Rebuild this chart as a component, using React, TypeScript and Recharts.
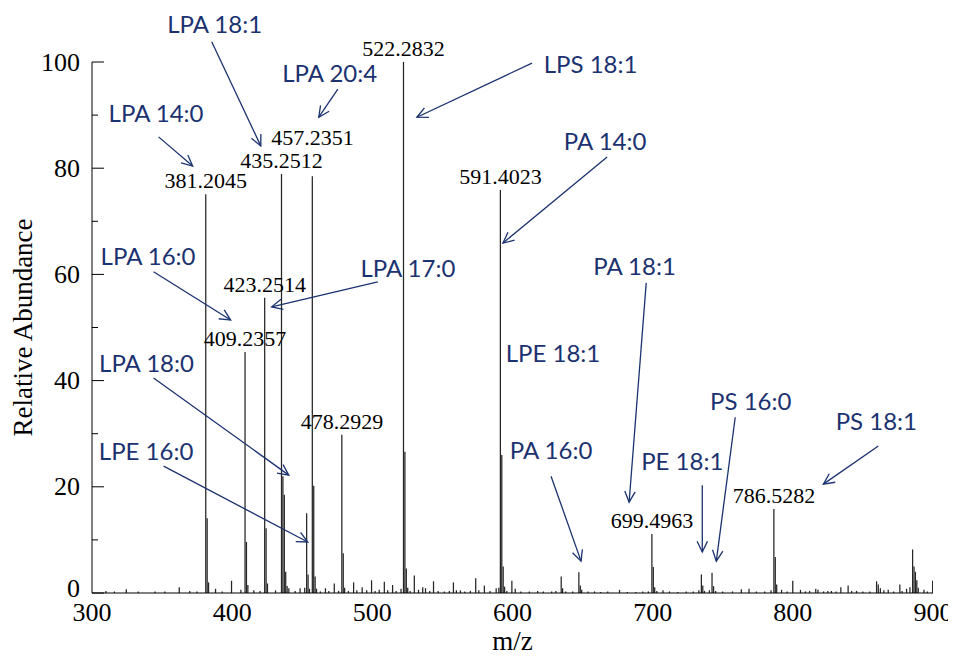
import React from 'react';
import { ComposedChart, Bar, XAxis, YAxis, ReferenceLine, ReferenceDot } from 'recharts';

// ---- spectrum peaks (m/z, relative abundance) ----
const peakMz = [
  310, 316, 324.5, 333, 345, 352, 362.3, 369.8, 375,
  381.2045, 382.21, 383.21, 388.2, 393, 399.6, 406.3,
  409.2357, 410.24, 411.24, 415.5, 420,
  423.2514, 424.25, 425.25, 431,
  435.2512, 436.25, 437.25, 438.25, 439.26, 440.5, 445, 448.5, 451.8,
  453.2, 454.2, 455.2,
  457.2351, 458.24, 459.24, 460.24, 463, 466.6, 469, 472.9, 476,
  478.2929, 479.3, 480.3, 483, 486.7, 489, 492.8, 496, 499.5, 502, 505, 508.6, 511, 514.5, 517, 520.5,
  522.2832, 523.29, 524.29, 525.29, 527, 530, 533, 536, 538, 541, 543.7, 547, 551.4, 555, 557.9, 560, 562.9, 566, 570, 573.8, 576, 580, 584, 588.4, 590.3,
  591.4023, 592.4, 593.41, 594.41, 596, 599.6, 602, 606, 612, 618, 622, 628, 631,
  634.8, 635.8, 638, 643, 647.4, 648.4, 649.4, 654, 658.6, 663, 668, 676.4, 682, 688, 693, 697,
  699.4963, 700.5, 701.5, 703, 707.4, 712, 718, 724, 729, 733,
  734.8, 735.8, 737, 740.5, 742.4, 743.5, 745, 750, 757, 763.3, 768.8, 774, 780, 784.5,
  786.5282, 787.53, 788.53, 792, 796, 800, 805.5, 809, 812, 816.4, 818, 822, 825, 827.5, 831, 834.3, 839.5, 842, 845.5, 850, 855,
  859.8, 861, 862.5, 865, 868.1, 872, 876.4, 878, 881.2, 883.6, 885.5, 886.5, 887.5, 888.5, 889.5, 893.6, 896, 899.8,
];
const peakAbundance = [
  0.4, 0.3, 0.7, 0.3, 0.3, 0.3, 1.1, 0.4, 0.3,
  75.1, 14.1, 2.0, 0.8, 0.3, 2.3, 0.6,
  45.4, 9.6, 1.5, 0.5, 0.4,
  55.6, 12.2, 1.8, 0.5,
  78.9, 22.0, 18.5, 4.0, 1.3, 0.9, 0.4, 0.9, 1.0,
  15.0, 3.5, 0.8,
  78.5, 20.2, 3.1, 0.8, 0.3, 0.9, 0.4, 1.8, 0.4,
  29.8, 7.5, 1.0, 0.4, 2.0, 0.5, 1.1, 0.5, 2.4, 0.4, 0.6, 2.1, 0.5, 1.5, 0.4, 0.8,
  100, 26.6, 4.6, 1.0, 0.4, 3.3, 0.6, 1.1, 0.9, 0.4, 2.2, 0.4, 0.3, 0.4, 2.0, 0.5, 0.5, 0.3, 0.4, 2.8, 0.5, 1.4, 0.4, 0.9, 1.0,
  75.9, 26.0, 5.0, 1.2, 0.4, 2.3, 0.8, 0.3, 0.3, 0.4, 0.3, 0.3, 0.4,
  3.1, 0.9, 0.3, 0.3, 3.9, 1.4, 0.6, 0.3, 0.3, 0.2, 0.3, 0.6, 0.2, 0.2, 0.3, 0.3,
  11.1, 4.9, 1.1, 0.4, 0.5, 0.3, 0.2, 0.3, 0.3, 0.5,
  3.5, 1.4, 0.4, 0.5, 3.8, 1.3, 0.4, 0.3, 0.3, 0.7, 0.8, 0.3, 0.3, 0.5,
  15.8, 6.8, 1.6, 0.6, 0.3, 2.3, 0.6, 0.3, 0.4, 0.8, 0.6, 0.3, 0.4, 0.4, 0.3, 1.1, 1.4, 0.4, 0.4, 0.3, 0.3,
  2.2, 1.6, 0.9, 0.5, 0.6, 0.3, 1.6, 0.4, 0.8, 1.1, 8.2, 5.0, 4.0, 2.4, 1.0, 0.6, 0.3, 2.3,
];

// ---- labelled peaks ----
const labelledMz = [381.2045, 409.2357, 423.2514, 435.2512, 457.2351, 478.2929, 522.2832, 591.4023, 699.4963, 786.5282];
const labelledAbundance = [75.1, 45.4, 55.6, 78.9, 78.5, 29.8, 100, 75.9, 11.1, 15.8];
const labelledText = ['381.2045', '409.2357', '423.2514', '435.2512', '457.2351', '478.2929', '522.2832', '591.4023', '699.4963', '786.5282'];

// ---- lipid annotations (text anchor and arrow in data units) ----
const lipidNames = ['LPA 14:0', 'LPA 18:1', 'LPA 20:4', 'LPS 18:1', 'LPA 16:0', 'LPA 17:0', 'LPA 18:0', 'LPE 16:0', 'PA 14:0', 'LPE 18:1', 'PA 18:1', 'PS 16:0', 'PA 16:0', 'PE 18:1', 'PS 18:1'];
const lipidTextMz = [345.7, 387.5, 469.6, 655.7, 340.0, 525.4, 338.9, 338.6, 666.1, 628.9, 687.1, 770.0, 627.5, 721.1, 859.6];
const lipidTextAb = [88.7, 105.5, 96.2, 97.9, 61.8, 59.5, 41.6, 25.0, 83.4, 43.5, 59.9, 34.5, 25.2, 23.2, 30.7];
const arrowFromMz = [347.5, 385.4, 475.4, 613.9, 343.9, 503.9, 343.9, 351.1, 667.5, null, 695.4, 758.9, 627.5, 735.4, 861.0];
const arrowFromAb = [85.9, 103.8, 94.9, 99.8, 60.5, 58.6, 40.5, 23.9, 82.1, null, 58.4, 33.1, 22.0, 20.3, 27.7];
const arrowToMz = [371.8, 420.4, 461.8, 531.8, 398.9, 428.2, 440.4, 453.9, 593.2, null, 683.2, 745.4, 648.9, 735.4, 821.8];
const arrowToAb = [80.4, 84.2, 89.6, 89.6, 51.4, 53.9, 22.2, 9.6, 65.9, null, 17.1, 6.0, 6.0, 7.7, 20.5];

// ---- axes ----
const xTicks = [300, 400, 500, 600, 700, 800, 900];
const yTicks = [0, 10, 20, 30, 40, 50, 60, 70, 80, 90, 100];
const yLabelled = [0, 20, 40, 60, 80, 100];

const data = peakMz.map((mz, i) => ({ mz, ab: peakAbundance[i] }));

const BLUE = '#1b3270';
const SERIF = '"Liberation Serif", "Times New Roman", serif';
const SANS = 'Lato, "Open Sans", sans-serif';

const YTick = (p: any) => {
  const { x, y, payload } = p;
  const v = payload.value;
  const axisX = x + 12;
  const major = yLabelled.includes(v);
  return (
    <g>
      <line x1={axisX} x2={axisX + (major ? 12 : 6)} y1={y} y2={y} stroke="#000" strokeWidth={1} />
      {major && (
        <text x={x} y={v === 0 ? y - 5 : y} textAnchor="end" dominantBaseline="central" fontFamily={SERIF} fontSize={26} fill="#000">
          {v}
        </text>
      )}
    </g>
  );
};

const XTick = (p: any) => {
  const { x, y, payload } = p;
  return (
    <text x={x} y={y} dy="0.71em" textAnchor="middle" fontFamily={SERIF} fontSize={26} fill="#000">
      {payload.value}
    </text>
  );
};

const Arrow = (p: any) => {
  const { x1, y1, x2, y2 } = p;
  const ang = Math.atan2(y2 - y1, x2 - x1);
  const L = 12;
  const a = Math.PI / 7;
  const ax = x2 - L * Math.cos(ang - a);
  const ay = y2 - L * Math.sin(ang - a);
  const bx = x2 - L * Math.cos(ang + a);
  const by = y2 - L * Math.sin(ang + a);
  return (
    <g>
      <line x1={x1} y1={y1} x2={x2} y2={y2} stroke={BLUE} strokeWidth={1.3} />
      <polyline points={`${ax},${ay} ${x2},${y2} ${bx},${by}`} fill="none" stroke={BLUE} strokeWidth={1.3} />
    </g>
  );
};

export default function App() {
  return (
    <ComposedChart
      width={946}
      height={650}
      data={data}
      margin={{ top: 54, right: 21, bottom: 6, left: 14 }}
    >
      <XAxis
        dataKey="mz"
        type="number"
        domain={[300, 900]}
        ticks={xTicks}
        interval={0}
        allowDataOverflow
        tickLine={false}
        tickSize={0}
        tickMargin={10}
        tick={<XTick />}
        axisLine={{ stroke: '#000', strokeWidth: 1 }}
        height={59}
        label={(lp: any) => {
          const vb = lp.viewBox || { x: 84, y: 585, width: 841 };
          return (
            <text x={vb.x + vb.width / 2} y={vb.y + 57} textAnchor="middle" fontFamily={SERIF} fontSize={27} fill="#000">
              m/z
            </text>
          );
        }}
      />
      <YAxis
        type="number"
        domain={[0, 100]}
        ticks={yTicks}
        interval={0}
        allowDataOverflow
        tickLine={false}
        tickSize={0}
        tickMargin={12}
        tick={<YTick />}
        axisLine={{ stroke: '#000', strokeWidth: 1 }}
        width={70}
        label={(lp: any) => {
          const vb = lp.viewBox || { x: 14, y: 54, height: 531 };
          const cx = vb.x + 1;
          const cy = vb.y + vb.height / 2;
          return (
            <text
              x={cx}
              y={cy}
              transform={`rotate(-90 ${cx} ${cy})`}
              textAnchor="middle"
              dominantBaseline="central"
              fontFamily={SERIF}
              fontSize={27}
              fill="#000"
            >
              Relative Abundance
            </text>
          );
        }}
      />
      <Bar dataKey="ab" fill="#262626" barSize={2} isAnimationActive={false} />
      {labelledMz.map((mz, i) => (
        <ReferenceDot
          key={'pl' + i}
          x={mz}
          y={labelledAbundance[i]}
          r={1}
          ifOverflow="visible"
          shape={(p: any) => (
            <text
              x={p.cx}
              y={p.cy - (labelledText[i] === '457.2351' ? 31 : 6)}
              textAnchor="middle"
              fontFamily={SERIF}
              fontSize={22}
              fill="#000"
            >
              {labelledText[i]}
            </text>
          )}
        />
      ))}
      {lipidNames.map((name, i) =>
        arrowFromMz[i] == null ? null : (
          <ReferenceLine
            key={'ar' + i}
            segment={[
              { x: arrowFromMz[i] as number, y: arrowFromAb[i] as number },
              { x: arrowToMz[i] as number, y: arrowToAb[i] as number },
            ]}
            ifOverflow="visible"
            shape={(p: any) => <Arrow {...p} />}
          />
        )
      )}
      {lipidNames.map((name, i) => (
        <ReferenceDot
          key={'ln' + i}
          x={lipidTextMz[i]}
          y={lipidTextAb[i]}
          r={1}
          ifOverflow="visible"
          shape={(p: any) => (
            <text x={p.cx} y={p.cy} textAnchor="middle" fontFamily={SANS} fontSize={24} fill={BLUE}>
              {name}
            </text>
          )}
        />
      ))}
    </ComposedChart>
  );
}
